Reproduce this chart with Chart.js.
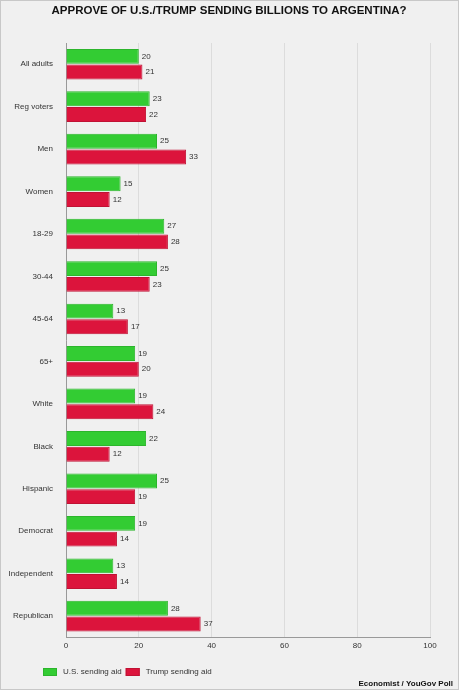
<!DOCTYPE html>
<html>
<head>
<meta charset="utf-8">
<script src="https://cdn.jsdelivr.net/npm/chart.js@4/dist/chart.umd.min.js"></script>
<style>
  html, body { margin: 0; padding: 0; background: #f0f0f0; }
  #wrap { width: 459px; height: 690px; position: relative; }
</style>
</head>
<body>
<div id="wrap"><canvas id="myBarChart"></canvas></div>
<script>
// poll groups and approval %
var groups = ["All adults", "Reg voters", "Men", "Women", "18-29", "30-44", "45-64", "65+",
    "White", "Black", "Hispanic", "Democrat", "Independent", "Republican"];
var usAid = [20, 23, 25, 15, 27, 25, 13, 19, 19, 22, 25, 19, 13, 28];
var trumpAid = [21, 22, 33, 12, 28, 23, 17, 20, 24, 12, 19, 14, 14, 37];
var xTicks = [0, 20, 40, 60, 80, 100];

var TITLE = "APPROVE OF U.S./TRUMP SENDING BILLIONS TO ARGENTINA?";
var SOURCE = "Economist / YouGov Poll";
var FONT = "'Liberation Sans', Arial, sans-serif";

// background, frame, title, value labels, legend and source line
var extras = {
    id: 'extras',
    beforeDraw: function (chart) {
        var ctx = chart.ctx;
        ctx.save();
        ctx.fillStyle = "#f0f0f0";
        ctx.fillRect(0, 0, chart.width, chart.height);
        ctx.strokeStyle = "#c8c8c8";
        ctx.lineWidth = 1;
        ctx.strokeRect(0.5, 0.5, chart.width - 1, chart.height - 1);
        ctx.restore();
    },
    afterDatasetsDraw: function (chart) {
        var ctx = chart.ctx;
        ctx.save();
        ctx.font = "8px " + FONT;
        ctx.fillStyle = "#333";
        ctx.textBaseline = "middle";
        ctx.textAlign = "left";
        chart.data.datasets.forEach(function (ds, i) {
            chart.getDatasetMeta(i).data.forEach(function (bar, j) {
                ctx.fillText(ds.data[j], bar.x + 3, bar.y);
            });
        });
        ctx.restore();
    },
    afterDraw: function (chart) {
        var ctx = chart.ctx;
        ctx.save();
        ctx.textBaseline = "middle";
        // title
        ctx.font = "bold 11.5px " + FONT;
        ctx.fillStyle = "#111";
        ctx.textAlign = "center";
        ctx.fillText(TITLE, 229, 11);
        // legend
        ctx.font = "8px " + FONT;
        ctx.textAlign = "left";
        var x = 43, y = 672;
        chart.data.datasets.forEach(function (ds) {
            ctx.fillStyle = ds.backgroundColor;
            ctx.fillRect(x, y - 4, 14, 8);
            ctx.strokeStyle = ds.borderColor;
            ctx.strokeRect(x + 0.5, y - 3.5, 13, 7);
            ctx.fillStyle = "#333";
            ctx.fillText(ds.label, x + 20, y);
            x += 20 + ctx.measureText(ds.label).width + 4;
        });
        // source
        ctx.font = "bold 8px " + FONT;
        ctx.textAlign = "right";
        ctx.fillStyle = "#111";
        ctx.fillText(SOURCE, chart.width - 6, chart.height - 6);
        ctx.restore();
    }
};

var visitorChart = document.getElementById("myBarChart");
var BarChart = new Chart(visitorChart, {
    type: 'bar',
    data: {
        labels: groups,
        datasets: [{
            data: usAid,
            label: "U.S. sending aid",
            backgroundColor: "#33cc33",
            borderColor: "#2cb52c",
            borderWidth: 1
        }, {
            data: trumpAid,
            label: "Trump sending aid",
            backgroundColor: "#dc143c",
            borderColor: "#c01234",
            borderWidth: 1
        }]
    },
    options: {
        indexAxis: 'y',
        responsive: true,
        maintainAspectRatio: false,
        animation: false,
        categoryPercentage: 0.74,
        barPercentage: 0.95,
        layout: { padding: { left: 4, right: 29, top: 43, bottom: 35 } },
        plugins: {
            title: { display: false },
            legend: { display: false },
            tooltip: { enabled: false }
        },
        scales: {
            x: {
                min: 0,
                max: 100,
                afterBuildTicks: function (axis) {
                    axis.ticks = xTicks.map(function (v) { return { value: v }; });
                },
                grid: { color: "#dcdcdc", drawTicks: false },
                border: { color: "#999" },
                ticks: { color: "#333", font: { family: FONT, size: 8 }, padding: 4 }
            },
            y: {
                afterFit: function (axis) { axis.width = 62; },
                grid: { display: false },
                border: { color: "#999" },
                ticks: { color: "#333", font: { family: FONT, size: 8 }, padding: 5 }
            }
        }
    },
    plugins: [extras]
});
</script>
</body>
</html>
